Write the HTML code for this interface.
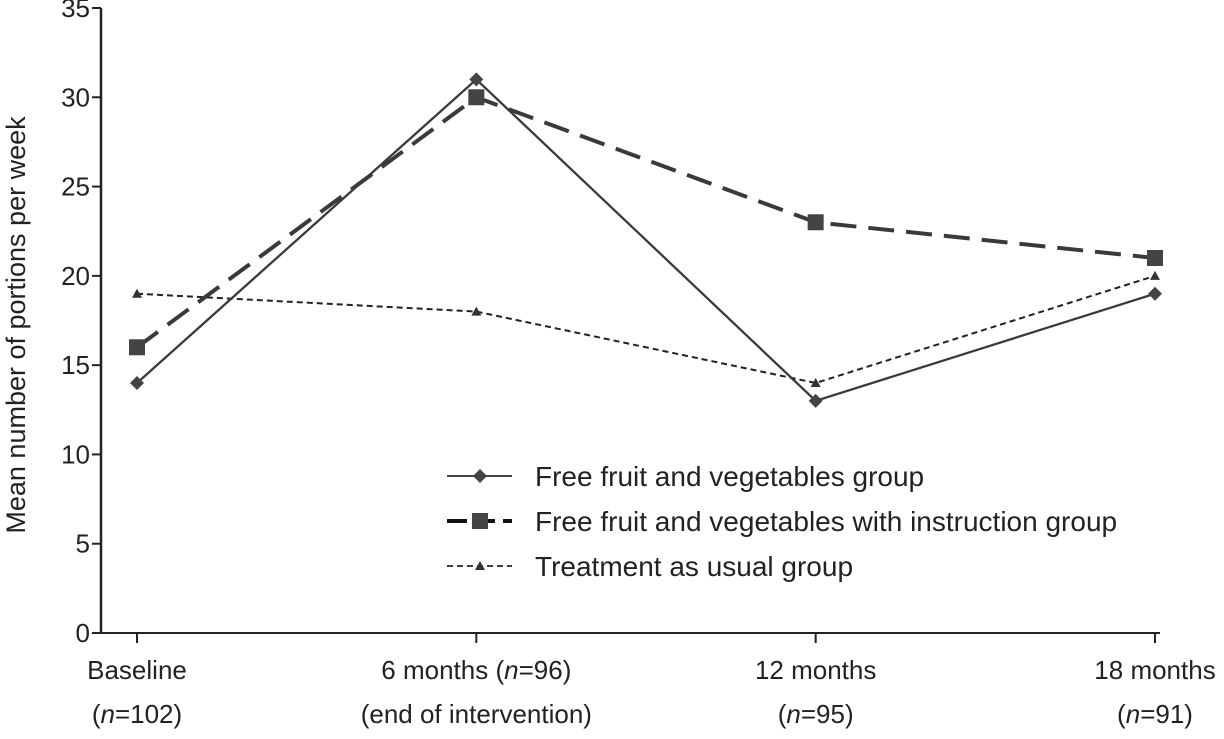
<!DOCTYPE html>
<html><head><meta charset="utf-8"><style>
body{margin:0;background:#fff;}
svg text{font-family:"Liberation Sans",sans-serif;fill:#222;}
</style></head><body>
<svg id="chart" width="1224" height="734" xmlns="http://www.w3.org/2000/svg"></svg>
<script>
const categories = ["Baseline", "6 months", "12 months", "18 months"];
const catLine1 = ["Baseline", "6 months (n=96)", "12 months", "18 months"];
const catLine2 = ["(n=102)", "(end of intervention)", "(n=95)", "(n=91)"];
const freeGroup = [14, 31, 13, 19];
const instructionGroup = [16, 30, 23, 21];
const usualGroup = [19, 18, 14, 20];
const yTicks = [0, 5, 10, 15, 20, 25, 30, 35];

const svg = document.getElementById('chart');
const NS = 'http://www.w3.org/2000/svg';
const X0 = 137, X1 = 1155, Y0 = 633, Y35 = 8, AX = 101;
function xs(i){ return X0 + i * (X1 - X0) / (categories.length - 1); }
function ys(v){ return Y0 - v * (Y0 - Y35) / 35; }
function mk(tag, attrs, parent){
  const e = document.createElementNS(NS, tag);
  for (const k in attrs) e.setAttribute(k, attrs[k]);
  (parent || svg).appendChild(e);
  return e;
}
let a = mk('line', {x1:AX, y1:Y35, x2:AX, y2:Y0, stroke:'#222', 'stroke-width':2.5});


a = mk('line', {x1:AX-9, y1:Y0, x2:1160, y2:Y0, stroke:'#222', 'stroke-width':2});


yTicks.forEach(v => {
  const y = ys(v);
  const t = mk('line', {x1:AX-9, y1:y, x2:AX, y2:y, stroke:'#222', 'stroke-width':2});
  
  
  const l = mk('text', {x:AX-11, y:y+9, 'text-anchor':'end', 'font-size':26});
  l.textContent = v;
  
  
});
categories.forEach((c, i) => {
  const x = xs(i);
  const t = mk('line', {x1:x, y1:Y0, x2:x, y2:Y0+10, stroke:'#222', 'stroke-width':2});
  
  
  const l1 = mk('text', {x:x, y:679, 'text-anchor':'middle', 'font-size':26});
  l1.innerHTML = catLine1[i].replace('n=', '<tspan font-style="italic">n</tspan>=');
  
  
  const l2 = mk('text', {x:x, y:723, 'text-anchor':'middle', 'font-size':26});
  l2.innerHTML = catLine2[i].replace('n=', '<tspan font-style="italic">n</tspan>=');
  
  
});
const yt = mk('text', {x:0, y:0, 'text-anchor':'middle', 'font-size':27, transform:'translate(25,325) rotate(-90)'});
yt.textContent = 'Mean number of portions per week';



function marker(type, x, y, g){
  let m;
  if (type === 'diamond') m = mk('polygon', {points:`${x},${y-7} ${x+7},${y} ${x},${y+7} ${x-7},${y}`, fill:'#444'}, g);
  else if (type === 'square') m = mk('rect', {x:x-8, y:y-8, width:16, height:16, fill:'#444'}, g);
  else m = mk('polygon', {points:`${x},${y-5} ${x+5},${y+4} ${x-5},${y+4}`, fill:'#333'}, g);
  
  
}
function series(vals, name, style, type){
  const g = mk('g', {});
  
  
  const pts = vals.map((v, i) => xs(i) + ',' + ys(v)).join(' ');
  const p = mk('polyline', Object.assign({points:pts, fill:'none', stroke:'#3a3a3a'}, style), g);
  
  
  vals.forEach((v, i) => marker(type, xs(i), ys(v), g));
}
series(usualGroup, 'usual-series', {'stroke-width':2, 'stroke-dasharray':'6,4', stroke:'#222'}, 'tri');
series(instructionGroup, 'instruction-series', {'stroke-width':4, 'stroke-dasharray':'26,12'}, 'square');
series(freeGroup, 'free-series', {'stroke-width':2.3}, 'diamond');

const leg = mk('g', {});


const items = [
  ['Free fruit and vegetables group', {'stroke-width':2, stroke:'#444'}, 'diamond', 476],
  ['Free fruit and vegetables with instruction group', {'stroke-width':4, stroke:'#111', 'stroke-dasharray':'20,8'}, 'square', 521],
  ['Treatment as usual group', {'stroke-width':1.8, stroke:'#222', 'stroke-dasharray':'6,4'}, 'tri', 566]
];
items.forEach(it => {
  const ln = mk('line', Object.assign({x1:447, y1:it[3], x2:512, y2:it[3]}, it[1]), leg);
  
  
  marker(it[2], 480, it[3], leg);
  const t = mk('text', {x:535, y:it[3]+10, 'font-size':28}, leg);
  t.textContent = it[0];
  
  
});
</script>
</body></html>
